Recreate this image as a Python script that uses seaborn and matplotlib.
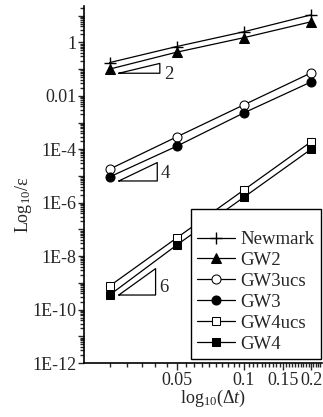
import numpy as np
import pandas as pd
import matplotlib
matplotlib.use("Agg")
import matplotlib.pyplot as plt
import matplotlib.ticker as mticker
import seaborn as sns

# ---- data ----
dt = [0.025, 0.05, 0.1, 0.2]
newmark = [0.175, 0.70, 2.5, 10.7]
gw2 = [0.10, 0.43, 1.5, 5.9]
gw3ucs = [1.8e-5, 2.9e-4, 4.6e-3, 0.072]
gw3 = [9.2e-6, 1.3e-4, 2.3e-3, 0.033]
gw4ucs = [7.6e-10, 4.8e-8, 3.0e-6, 1.9e-4]
gw4 = [3.5e-10, 2.6e-8, 1.6e-6, 1.0e-4]

series_names = ["Newmark", "GW2", "GW3ucs", "GW3", "GW4ucs", "GW4"]
series_vals = [newmark, gw2, gw3ucs, gw3, gw4ucs, gw4]

# slope triangles: order, x-start, x-end, y-start
tri_order = [2, 4, 6]
tri_x0 = [0.0275, 0.0275, 0.0275]
tri_x1 = [0.042, 0.0409, 0.0402]
tri_y0 = [0.070, 6.5e-6, 3.5e-10]
tri_label_frac = [-0.15, 0.4, 0.3]

x_major = [0.05, 0.1, 0.15, 0.2]
x_major_labels = ["0.05", "0.1", "0.15", "0.2"]
y_labeled = [1, 1e-2, 1e-4, 1e-6, 1e-8, 1e-10, 1e-12]
y_labels = ["1", "0.01", "1E-4", "1E-6", "1E-8", "1E-10", "1E-12"]

# ---- style ----
sns.set_style("ticks")
plt.rcParams["font.family"] = ["Liberation Serif", "DejaVu Serif"]
plt.rcParams["mathtext.fontset"] = "custom"
plt.rcParams["mathtext.rm"] = "Liberation Serif"
plt.rcParams["mathtext.it"] = "Liberation Serif:italic"
plt.rcParams["font.size"] = 13

fig = plt.figure(figsize=(3.23, 4.17), dpi=100)
ax = fig.add_axes([84 / 323, 1 - 363 / 417, 238 / 323, 357 / 417])

styles = {
    "Newmark": dict(marker="+", markersize=8, markerfacecolor="black", markeredgewidth=1.0),
    "GW2": dict(marker="^", markersize=7, markerfacecolor="black"),
    "GW3ucs": dict(marker="o", markersize=6.5, markerfacecolor="white"),
    "GW3": dict(marker="o", markersize=6.5, markerfacecolor="black"),
    "GW4ucs": dict(marker="s", markersize=6, markerfacecolor="white"),
    "GW4": dict(marker="s", markersize=6, markerfacecolor="black"),
}

for name, vals in zip(series_names, series_vals):
    df = pd.DataFrame({"dt": dt, "err": vals})
    sns.lineplot(data=df, x="dt", y="err", ax=ax, color="black", linewidth=0.9,
                 markeredgecolor="black", label=name, **styles[name])

ax.set_xscale("log")
ax.set_yscale("log")
ax.set_xlim(0.0192, 0.224)
ax.set_ylim(1e-12, 23)

# slope triangles
for p, x0, x1, y0, fr in zip(tri_order, tri_x0, tri_x1, tri_y0, tri_label_frac):
    y1 = y0 * (x1 / x0) ** p
    ax.plot([x0, x1, x1, x0], [y0, y1, y0, y0], color="black", linewidth=0.9)
    ax.text(x1 * 1.04, y0 * (y1 / y0) ** fr, str(p), ha="left", va="center", fontsize=13.5)

# x ticks
ax.xaxis.set_major_locator(mticker.FixedLocator(x_major))
ax.xaxis.set_major_formatter(mticker.FixedFormatter(x_major_labels))
minor_x = [round(v, 4) for v in np.arange(0.025, 0.2201, 0.005) if all(abs(v - m) > 1e-6 for m in x_major)]
ax.xaxis.set_minor_locator(mticker.FixedLocator(minor_x))
ax.xaxis.set_minor_formatter(mticker.NullFormatter())

# y ticks
ydec = [10.0 ** k for k in range(-12, 2)]
ax.yaxis.set_major_locator(mticker.FixedLocator(ydec))
lab_map = dict(zip([round(np.log10(v)) for v in y_labeled], y_labels))
ax.yaxis.set_major_formatter(mticker.FixedFormatter([lab_map.get(round(np.log10(v)), "") for v in ydec]))
ax.yaxis.set_minor_locator(mticker.LogLocator(base=10, subs=np.arange(2, 10), numticks=50))
ax.yaxis.set_minor_formatter(mticker.NullFormatter())

ax.tick_params(axis="both", which="major", direction="out", length=5, width=1, labelsize=13, pad=1.5)
ax.tick_params(axis="both", which="minor", direction="out", length=3, width=1)
ax.tick_params(axis="y", which="major", length=4)

for s in ["top", "right"]:
    ax.spines[s].set_visible(False)
for s in ["left", "bottom"]:
    ax.spines[s].set_linewidth(1.2)
    ax.spines[s].set_color("black")

ax.set_xlabel(r"log$_{10}$($\Delta t$)", fontsize=13)
ax.set_ylabel(r"Log$_{10}$/ε", fontsize=13)
ax.xaxis.set_label_coords(0.54, -0.07)
ax.yaxis.set_label_coords(-0.21, 0.443)

leg = ax.legend(loc="lower right", bbox_to_anchor=(0.996, 0.011), frameon=True, fancybox=False,
                edgecolor="black", framealpha=1, fontsize=13.5, handlelength=2.0, handletextpad=0.3,
                borderpad=0.35, labelspacing=0.2, borderaxespad=0, title=" ", title_fontsize=9)
leg.get_frame().set_linewidth(1.0)

fig.savefig("out.png", dpi=100)
